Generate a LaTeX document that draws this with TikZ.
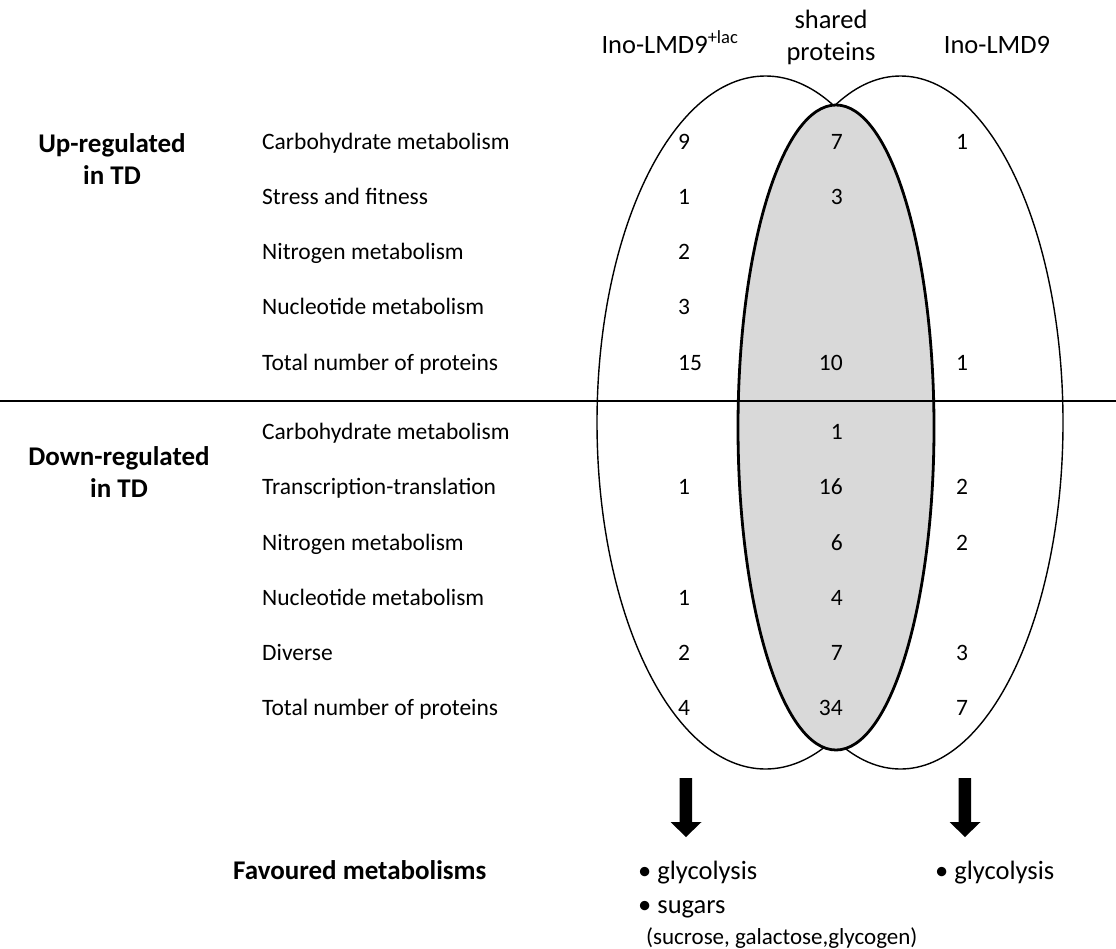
\documentclass[tikz,border=0pt]{standalone}
\usepackage{fontspec}
\setmainfont{Carlito}
\begin{document}
\begin{tikzpicture}[x=1pt,y=-1pt,
  lbl/.style={anchor=base west,inner sep=0pt,font=\fontsize{23.5}{26}\selectfont},
  num/.style={inner sep=0pt,font=\fontsize{23.5}{26}\selectfont},
  numl/.style={num,anchor=base west},
  numr/.style={num,anchor=base east},
  grp/.style={inner sep=0pt,align=center,anchor=base,font=\fontsize{27}{32}\selectfont\bfseries},
  hdr/.style={inner sep=0pt,align=center,anchor=base,font=\fontsize{26.5}{32}\selectfont},
  res/.style={inner sep=0pt,anchor=base west,font=\fontsize{26.5}{30}\selectfont},
  small/.style={inner sep=0pt,anchor=base west,font=\fontsize{23}{26}\selectfont},
  setline/.style={line width=1.4pt},
  sharedline/.style={line width=2.8pt,fill=gray!30},
  divider/.style={line width=2pt},
  blockarrow/.style={fill=black}
]
\useasboundingbox (0,0) rectangle (1116,948);
\fill[white] (0,0) rectangle (1116,948);

% sets
\draw[setline] (765.5,422.5) ellipse [x radius=168.5pt, y radius=346.5pt];
\draw[setline] (900.5,422.5) ellipse [x radius=162.5pt, y radius=346.5pt];
\draw[sharedline] (836,427.5) ellipse [x radius=98pt, y radius=322.5pt];

% divider
\coordinate (dl) at (0,401);
\coordinate (dr) at (1116,401);
\draw[divider] (dl) -- (dr);

% headers
\node[hdr] (h1) at (670,53) {Ino-LMD9\textsuperscript{+lac}};
\node[hdr] (h2) at (831,60) {shared\\proteins};
\node[hdr] (h3) at (997,53) {Ino-LMD9};

% group labels
\node[grp] (up) at (112,184) {Up-regulated\\in TD};
\node[grp] (down) at (119,497) {Down-regulated\\in TD};

% row labels up
\node[lbl] (u1) at (262,149) {Carbohydrate metabolism};
\node[lbl] (u2) at (262,204) {Stress and fitness};
\node[lbl] (u3) at (262,259) {Nitrogen metabolism};
\node[lbl] (u4) at (262,314) {Nucleotide metabolism};
\node[lbl] (u5) at (262,370) {Total number of proteins};
% row labels down
\node[lbl] (d1) at (262,439) {Carbohydrate metabolism};
\node[lbl] (d2) at (262,494) {Transcription-translation};
\node[lbl] (d3) at (262,550) {Nitrogen metabolism};
\node[lbl] (d4) at (262,605) {Nucleotide metabolism};
\node[lbl] (d5) at (262,660) {Diverse};
\node[lbl] (d6) at (262,715) {Total number of proteins};

% numbers up
\node[numl] (u1a) at (678,149) {9};
\node[numr] (u1b) at (843,149) {7};
\node[numl] (u1c) at (956,149) {1};
\node[numl] (u2a) at (678,204) {1};
\node[numr] (u2b) at (843,204) {3};
\node[numl] (u3a) at (678,259) {2};
\node[numl] (u4a) at (678,314) {3};
\node[numl] (u5a) at (678,370) {15};
\node[numr] (u5b) at (843,370) {10};
\node[numl] (u5c) at (956,370) {1};
% numbers down
\node[numr] (d1b) at (843,439) {1};
\node[numl] (d2a) at (678,494) {1};
\node[numr] (d2b) at (843,494) {16};
\node[numl] (d2c) at (956,494) {2};
\node[numr] (d3b) at (843,550) {6};
\node[numl] (d3c) at (956,550) {2};
\node[numl] (d4a) at (678,605) {1};
\node[numr] (d4b) at (843,605) {4};
\node[numl] (d5a) at (678,660) {2};
\node[numr] (d5b) at (843,660) {7};
\node[numl] (d5c) at (956,660) {3};
\node[numl] (d6a) at (678,715) {4};
\node[numr] (d6b) at (843,715) {34};
\node[numl] (d6c) at (956,715) {7};

% block arrows
\fill[blockarrow] (679.5,778) -- (692,778) -- (692,822) -- (701.5,822) -- (686,837) -- (670.5,822) -- (679.5,822) -- cycle;
\fill[blockarrow] (958.5,778) -- (971,778) -- (971,822) -- (980.5,822) -- (965,837) -- (949.5,822) -- (958.5,822) -- cycle;

% favoured metabolisms
\node[grp,anchor=base west] (fav) at (233,879) {Favoured metabolisms};
\node[res] (r1) at (638,879) {• glycolysis};
\node[res] (r2) at (638,913) {• sugars};
\node[small] (r3) at (646,944) {(sucrose, galactose,glycogen)};
\node[res] (r4) at (935,879) {• glycolysis};
\end{tikzpicture}
\end{document}
